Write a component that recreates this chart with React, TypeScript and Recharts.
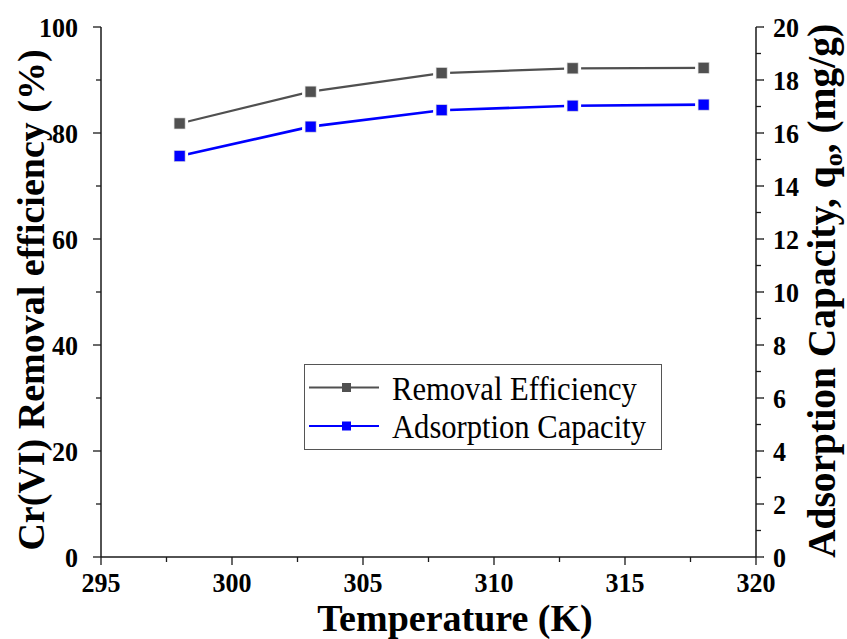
import React from 'react';
import { LineChart, Line, XAxis, YAxis, Legend } from 'recharts';

// Temperature series (K)
const temperatures = [298, 303, 308, 313, 318];
// Cr(VI) removal efficiency (%)
const removalEfficiency = [81.8, 87.8, 91.3, 92.2, 92.3];
// Adsorption capacity q0 (mg/g)
const adsorptionCapacity = [15.13, 16.24, 16.86, 17.03, 17.07];

const xTicks = [295, 297.5, 300, 302.5, 305, 307.5, 310, 312.5, 315, 317.5, 320];
const leftTicks = [0, 10, 20, 30, 40, 50, 60, 70, 80, 90, 100];
const rightTicks = [0, 1, 2, 3, 4, 5, 6, 7, 8, 9, 10, 11, 12, 13, 14, 15, 16, 17, 18, 19, 20];

const seriesNames = ['Removal Efficiency', 'Adsorption Capacity'];
const seriesColors = ['#505050', '#0000ff'];

const data = temperatures.map((t, i) => ({
  t,
  removal: removalEfficiency[i],
  capacity: adsorptionCapacity[i],
}));

const FONT = '"Liberation Serif", "Times New Roman", Times, serif';
const AXIS = '#1a1a1a';
const boldText = { fontFamily: FONT, fontWeight: 700 } as React.CSSProperties;
const plainText = { fontFamily: FONT, fontWeight: 400 } as React.CSSProperties;

// Slightly condensed serif numerals for the tick labels
const TickText = ({ x, y, anchor, children }: any) => (
  <text
    transform={`translate(${x},${y}) scale(0.93,1)`}
    x={0}
    y={0}
    textAnchor={anchor}
    style={{ ...boldText, fontSize: 28 }}
    fill="#000"
  >
    {children}
  </text>
);

const BottomTick = (props: any) => {
  const { x, y, payload } = props;
  const v = payload.value;
  const major = v % 5 === 0;
  return (
    <g>
      <line x1={x} x2={x} y1={y} y2={y + (major ? 8 : 5)} stroke={AXIS} strokeWidth={1.3} />
      {major && (
        <TickText x={x} y={y + 35} anchor="middle">
          {v}
        </TickText>
      )}
    </g>
  );
};

const TopTick = (props: any) => {
  const { x, y } = props;
  return <line x1={x} x2={x} y1={y} y2={y + 5} stroke={AXIS} strokeWidth={1.3} />;
};

const LeftTick = (props: any) => {
  const { x, y, payload } = props;
  const v = payload.value;
  const major = v % 20 === 0;
  return (
    <g>
      <line x1={x} x2={x - (major ? 8 : 5)} y1={y} y2={y} stroke={AXIS} strokeWidth={1.3} />
      {major && (
        <TickText x={x - 23} y={y + 9.5} anchor="end">
          {v}
        </TickText>
      )}
    </g>
  );
};

const RightTick = (props: any) => {
  const { x, y, payload } = props;
  const v = payload.value;
  const major = v % 2 === 0;
  return (
    <g>
      <line x1={x} x2={x + (major ? 8 : 5)} y1={y} y2={y} stroke={AXIS} strokeWidth={1.3} />
      {major && (
        <TickText x={x + 17} y={y + 9.5} anchor="start">
          {v}
        </TickText>
      )}
    </g>
  );
};

const makeSquare = (color: string, size: number) => (props: any) => {
  const { cx, cy, index } = props;
  if (cx == null || cy == null) return <g key={index} />;
  const pad = 3;
  return (
    <g key={index}>
      <rect x={cx - size / 2 - pad} y={cy - size / 2 - pad} width={size + pad * 2} height={size + pad * 2} fill="#fff" />
      <rect x={cx - size / 2} y={cy - size / 2} width={size} height={size} fill={color} stroke="#d8d8d8" strokeWidth={0.6} />
    </g>
  );
};

const LegendBox = (props: any) => {
  const payload = (props.payload || []) as any[];
  const byName: Record<string, string> = {};
  payload.forEach((p) => {
    byName[p.value] = p.color;
  });
  const rows = [23.5, 62];
  return (
    <svg width={358} height={86} style={{ display: 'block' }}>
      <rect x={0.5} y={0.5} width={357} height={85} fill="#fff" stroke="#555" strokeWidth={1} />
      {seriesNames.map((name, i) => {
        const color = byName[name] || seriesColors[i];
        const cy = rows[i];
        return (
          <g key={name}>
            <line x1={5} x2={75} y1={cy} y2={cy} stroke={color} strokeWidth={2} />
            <rect x={38} y={cy - 4.5} width={9} height={9} fill={color} />
            <text
              transform={`translate(88,${cy + 12}) scale(0.9,1)`}
              x={0}
              y={0}
              style={{ ...plainText, fontSize: 34 }}
              fill="#000"
            >
              {name}
            </text>
          </g>
        );
      })}
    </svg>
  );
};

export default function App() {
  return (
    <div style={{ position: 'absolute', left: 0, top: 0, width: 847, height: 639, background: '#fff' }}>
      <LineChart width={847} height={639} data={data} margin={{ top: 27, right: 0, bottom: 0, left: 0 }}>
        <XAxis
          dataKey="t"
          type="number"
          domain={[295, 320]}
          ticks={xTicks}
          interval={0}
          height={82}
          tickSize={0}
          tickMargin={0}
          tickLine={false}
          tick={<BottomTick />}
          axisLine={{ stroke: AXIS, strokeWidth: 1.5 }}
          label={{
            content: () => (
              <text x={455} y={631} textAnchor="middle" style={{ ...boldText, fontSize: 38 }} fill="#000">
                Temperature (K)
              </text>
            ),
          }}
        />
        <XAxis
          xAxisId="top"
          dataKey="t"
          type="number"
          orientation="top"
          domain={[295, 320]}
          ticks={xTicks}
          interval={0}
          height={0}
          tickSize={0}
          tickMargin={0}
          tickLine={false}
          tick={<TopTick />}
          axisLine={{ stroke: AXIS, strokeWidth: 1.5 }}
        />
        <YAxis
          yAxisId="left"
          type="number"
          domain={[0, 100]}
          ticks={leftTicks}
          interval={0}
          width={101}
          tickSize={0}
          tickMargin={0}
          tickLine={false}
          tick={<LeftTick />}
          axisLine={{ stroke: AXIS, strokeWidth: 1.5 }}
          label={{
            content: () => (
              <text
                transform="translate(44,300) rotate(-90)"
                x={0}
                y={0}
                textAnchor="middle"
                style={{ ...boldText, fontSize: 38 }}
                fill="#000"
              >
                Cr(VI) Removal efficiency (%)
              </text>
            ),
          }}
        />
        <YAxis
          yAxisId="right"
          orientation="right"
          type="number"
          domain={[0, 20]}
          ticks={rightTicks}
          interval={0}
          width={91}
          tickSize={0}
          tickMargin={0}
          tickLine={false}
          tick={<RightTick />}
          axisLine={{ stroke: AXIS, strokeWidth: 1.5 }}
          label={{
            content: () => (
              <text
                transform="translate(835,291) rotate(-90)"
                x={0}
                y={0}
                textAnchor="middle"
                style={{ ...boldText, fontSize: 39.5 }}
                fill="#000"
              >
                Adsorption Capacity, q
                <tspan style={{ fontSize: 26 }} dy={7}>o</tspan>
                <tspan dy={-7}>, (mg/g)</tspan>
              </text>
            ),
          }}
        />
        <Legend
          layout="vertical"
          align="center"
          verticalAlign="middle"
          content={<LegendBox />}
          wrapperStyle={{ position: 'absolute', left: 304, top: 364, width: 358, height: 86 }}
        />
        <Line
          yAxisId="left"
          dataKey="removal"
          name={seriesNames[0]}
          stroke={seriesColors[0]}
          strokeWidth={2.2}
          dot={makeSquare(seriesColors[0], 11)}
          activeDot={false}
          isAnimationActive={false}
        />
        <Line
          yAxisId="right"
          dataKey="capacity"
          name={seriesNames[1]}
          stroke={seriesColors[1]}
          strokeWidth={2.6}
          dot={makeSquare(seriesColors[1], 11)}
          activeDot={false}
          isAnimationActive={false}
        />
      </LineChart>
    </div>
  );
}
